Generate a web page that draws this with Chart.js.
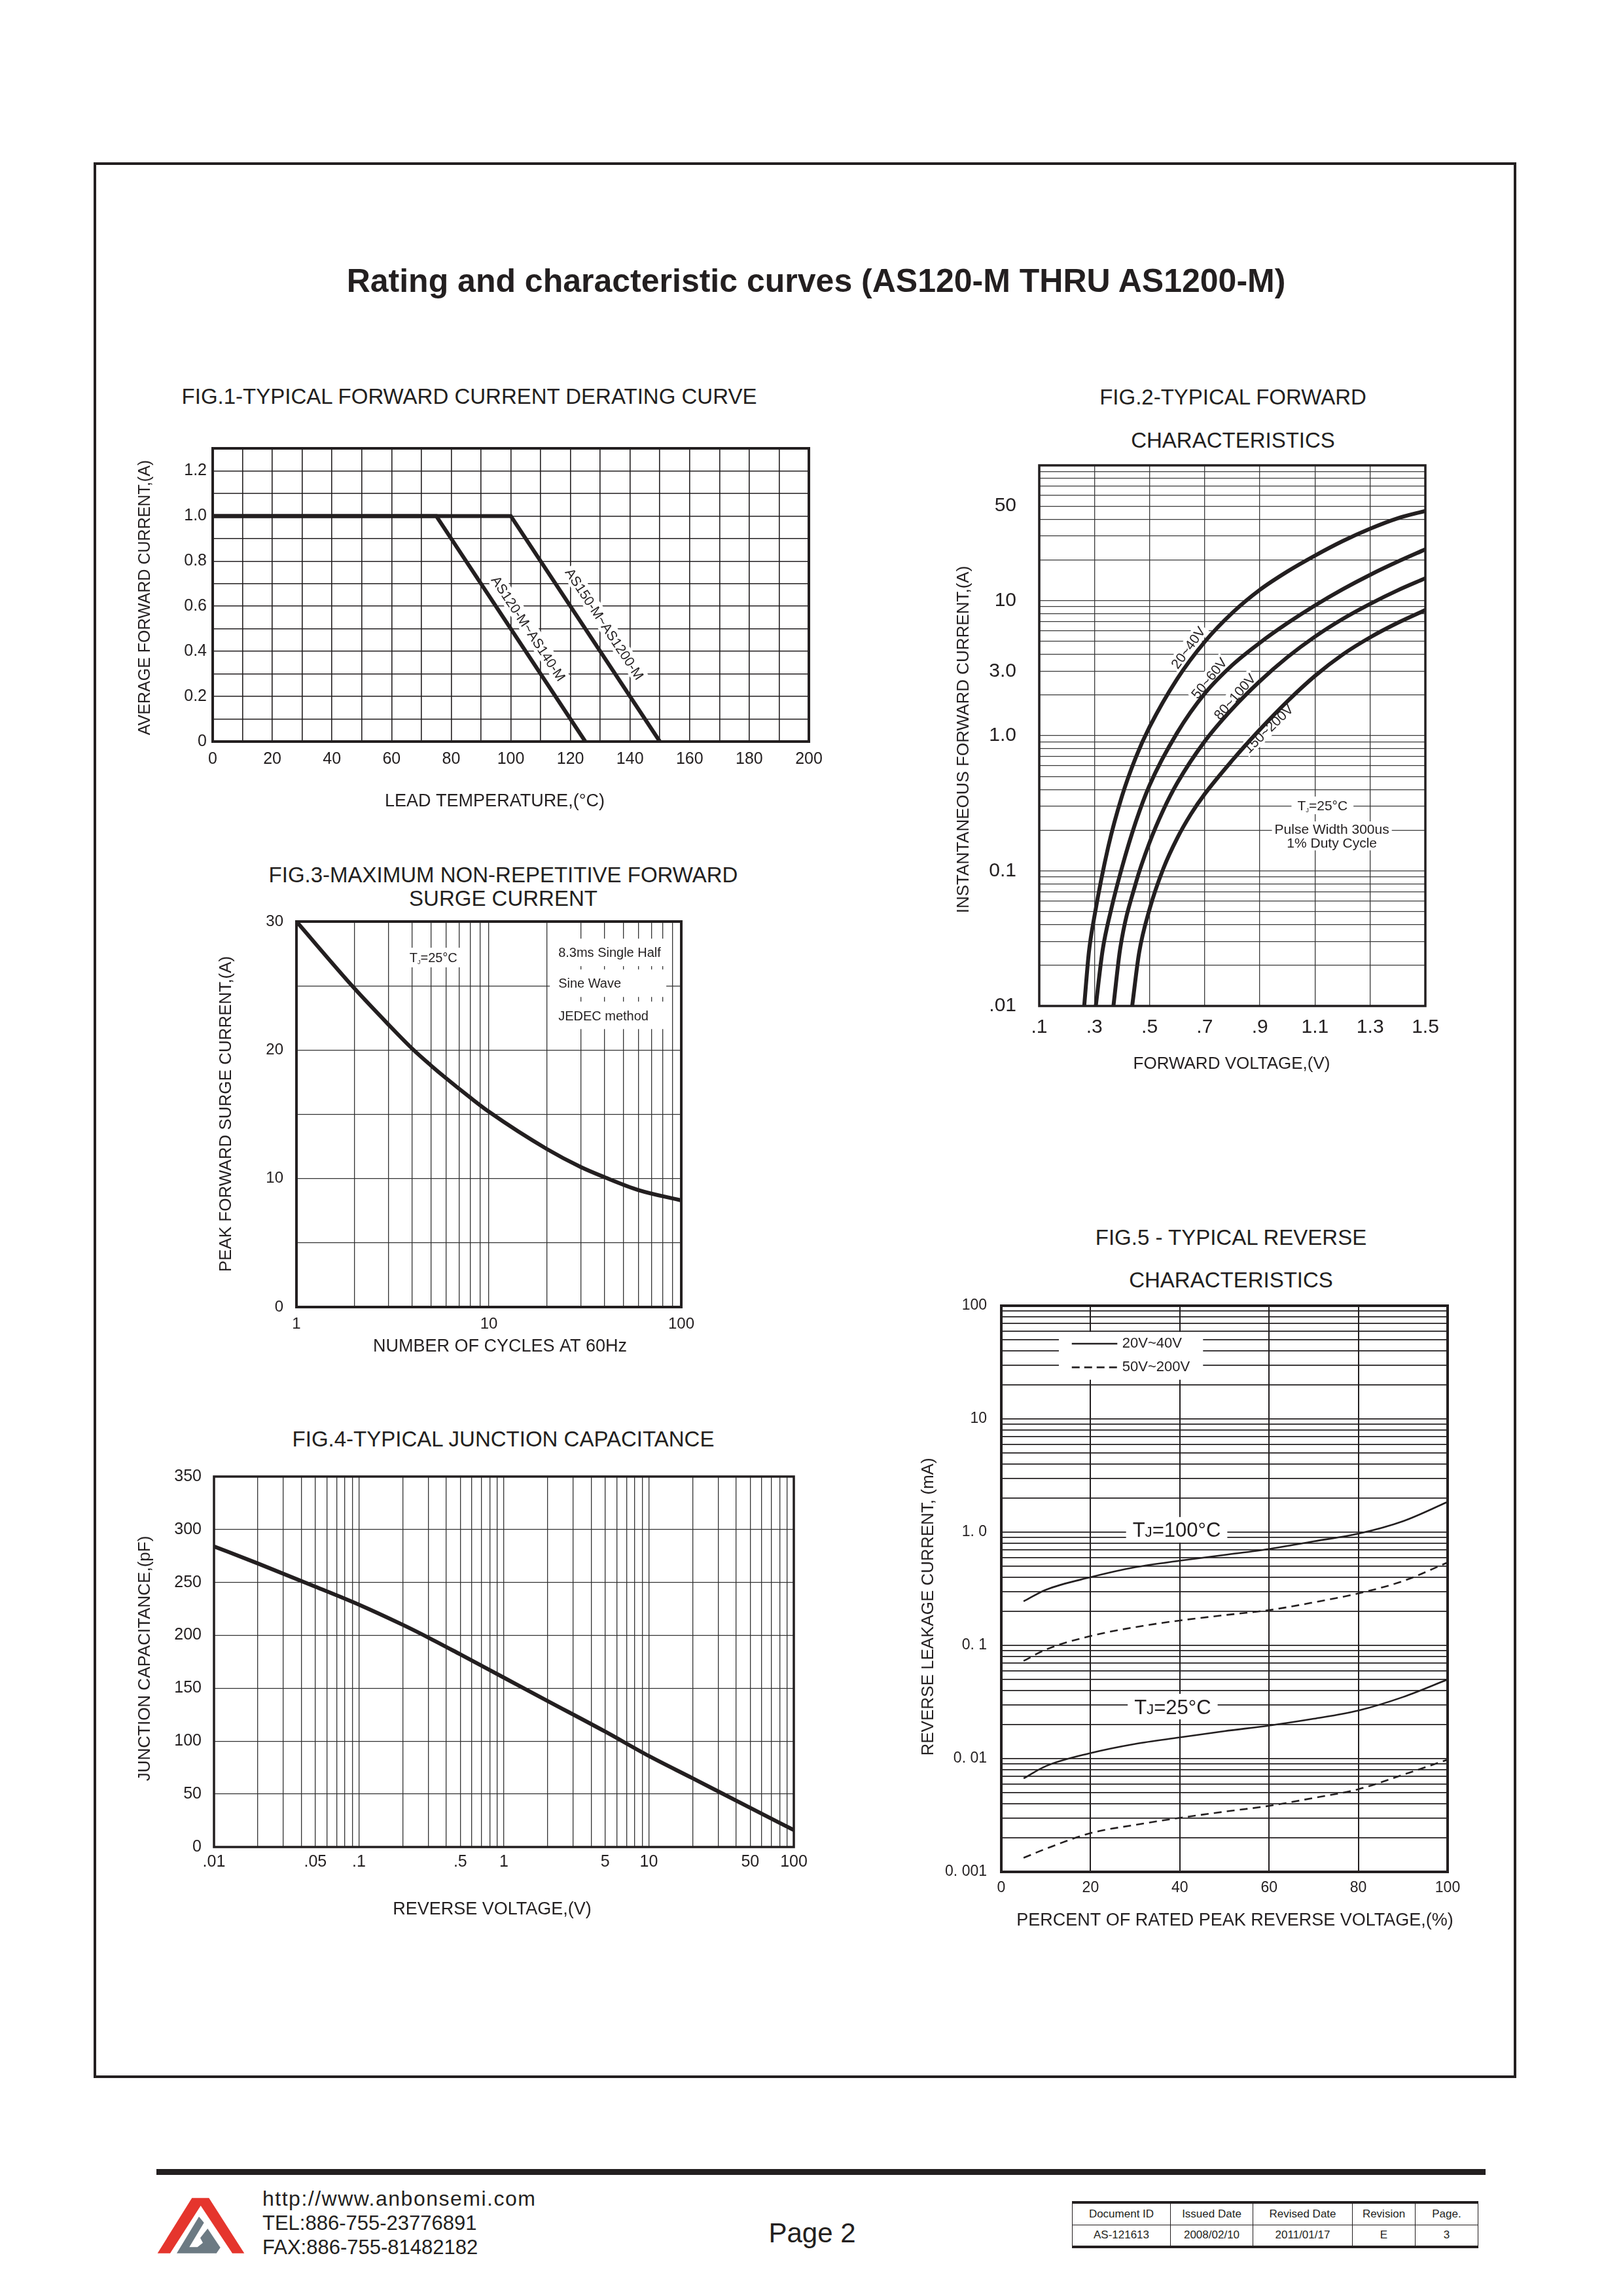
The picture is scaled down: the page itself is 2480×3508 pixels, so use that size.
<!DOCTYPE html>
<html><head><meta charset="utf-8">
<script src="https://cdn.jsdelivr.net/npm/chart.js@4.4.1/dist/chart.umd.min.js"></script>
<style>
html,body{margin:0;padding:0;background:#fff;}
#page{position:relative;width:2480px;height:3508px;background:#fff;overflow:hidden;font-family:"Liberation Sans",Arial,Helvetica,sans-serif;color:#231f20;}
canvas{position:absolute;}
.c{position:absolute;white-space:nowrap;transform:translate(-50%,-50%);line-height:1;}
.l{position:absolute;white-space:nowrap;transform:translateY(-50%);line-height:1;}
.figt{font-size:33px;}
#doc{position:absolute;left:1638px;top:3363px;width:621px;height:72px;border-collapse:collapse;font-size:17px;text-align:center;}
#doc td{border:1.5px solid #231f20;padding:0;}
#doc tr:first-child td{border-top:4px solid #231f20;}
#doc tr:last-child td{border-bottom:4px solid #231f20;}
</style></head><body><div id="page">
<div style="position:absolute;left:143px;top:248px;width:2174px;height:2927px;box-sizing:border-box;border:4px solid #231f20;"></div>
<div class="c" style="left:1247px;top:429px;font-size:50px;font-weight:bold;">Rating and characteristic curves (AS120-M THRU AS1200-M)</div>
<div class="c figt" style="left:717px;top:605px;">FIG.1-TYPICAL FORWARD CURRENT DERATING CURVE</div>
<div class="c figt" style="left:1884px;top:606px;">FIG.2-TYPICAL FORWARD</div>
<div class="c figt" style="left:1884px;top:672px;">CHARACTERISTICS</div>
<div class="c figt" style="left:769px;top:1336px;">FIG.3-MAXIMUM NON-REPETITIVE FORWARD</div>
<div class="c figt" style="left:769px;top:1372px;">SURGE CURRENT</div>
<div class="c figt" style="left:769px;top:2198px;">FIG.4-TYPICAL JUNCTION CAPACITANCE</div>
<div class="c figt" style="left:1881px;top:1890px;">FIG.5 - TYPICAL REVERSE</div>
<div class="c figt" style="left:1881px;top:1955px;">CHARACTERISTICS</div>

<div style="position:absolute;left:239px;top:3314px;width:2031px;height:9px;background:#231f20;"></div>
<svg style="position:absolute;left:230px;top:3340px;" width="160" height="120" viewBox="0 0 160 120">
<polygon fill="#e5352d" points="63.3,18.3 89.3,18.3 143.3,102.7 125,102.7 76.7,30 30,102.7 10.7,102.7"/>
<polygon fill="#6c7a83" points="74,46.7 81.7,56 59.3,93.3 71.7,93.3 80,86.7 76,79.3 87.3,65 106.7,94 100.7,102.7 40,102.7"/>
</svg>
<div class="l" style="left:401px;top:3359px;font-size:32px;letter-spacing:1.5px;">http://www.anbonsemi.com</div>
<div class="l" style="left:401px;top:3396px;font-size:31px;">TEL:886-755-23776891</div>
<div class="l" style="left:401px;top:3433px;font-size:31px;">FAX:886-755-81482182</div>
<div class="c" style="left:1241px;top:3412px;font-size:42px;">Page 2</div>
<table id="doc">
<tr><td style="width:149px">Document ID</td><td style="width:125px">Issued Date</td><td style="width:151px">Revised Date</td><td style="width:95px">Revision</td><td>Page.</td></tr>
<tr><td>AS-121613</td><td>2008/02/10</td><td>2011/01/17</td><td>E</td><td>3</td></tr>
</table>
</div>
<script>
// ================= DATA =================
// FIG.1 derating
const fig1TempA = [0, 75, 125];
const fig1CurrA = [1.0, 1.0, 0];
const fig1TempB = [0, 100, 150];
const fig1CurrB = [1.0, 1.0, 0];
const fig1Names = ['AS120-M~AS140-M', 'AS150-M~AS1200-M'];
const fig1XTicks = [0, 20, 40, 60, 80, 100, 120, 140, 160, 180, 200];
const fig1XLabels = ['0', '20', '40', '60', '80', '100', '120', '140', '160', '180', '200'];
const fig1YTicks = [0, 0.2, 0.4, 0.6, 0.8, 1.0, 1.2];
const fig1YLabels = ['0', '0.2', '0.4', '0.6', '0.8', '1.0', '1.2'];

// FIG.2 forward characteristics
const fig2Names = ['20~40V', '50~60V', '80~100V', '150~200V'];
const fig2V1 = [0.263, 0.28, 0.3, 0.35, 0.4, 0.45, 0.5, 0.6, 0.7, 0.8, 0.9, 1.0, 1.1, 1.2, 1.3, 1.4, 1.5];
const fig2I1 = [0.01, 0.025, 0.046, 0.15, 0.357, 0.69, 1.16, 2.63, 4.95, 8.1, 12.0, 16.4, 21.5, 27.5, 34, 40.6, 46];
const fig2V2 = [0.305, 0.33, 0.36, 0.4, 0.45, 0.5, 0.6, 0.7, 0.8, 0.9, 1.0, 1.1, 1.2, 1.3, 1.4, 1.5];
const fig2I2 = [0.01, 0.026, 0.051, 0.106, 0.23, 0.43, 1.05, 2.05, 3.33, 4.87, 6.8, 9.2, 12.1, 15.5, 19.4, 23.9];
const fig2V3 = [0.369, 0.394, 0.45, 0.5, 0.55, 0.6, 0.7, 0.8, 0.9, 1.0, 1.1, 1.2, 1.3, 1.4, 1.5];
const fig2I3 = [0.01, 0.027, 0.081, 0.162, 0.282, 0.445, 0.908, 1.58, 2.53, 3.81, 5.41, 7.3, 9.45, 11.9, 14.6];
const fig2V4 = [0.437, 0.462, 0.5, 0.55, 0.6, 0.65, 0.7, 0.8, 0.9, 1.0, 1.1, 1.2, 1.3, 1.4, 1.5];
const fig2I4 = [0.01, 0.0247, 0.052, 0.104, 0.174, 0.263, 0.37, 0.657, 1.11, 1.8, 2.77, 3.98, 5.34, 6.84, 8.5];
const fig2XTicks = [0.1, 0.3, 0.5, 0.7, 0.9, 1.1, 1.3, 1.5];
const fig2XLabels = ['.1', '.3', '.5', '.7', '.9', '1.1', '1.3', '1.5'];
const fig2YTicks = [0.01, 0.1, 1, 3, 10, 50];
const fig2YLabels = ['.01', '0.1', '1.0', '3.0', '10', '50'];

// FIG.3 surge current
const fig3Cycles = [1, 2, 3, 4, 5, 6, 8, 10, 20, 30, 40, 60, 100];
const fig3Amps = [30, 24.8, 22.0, 20.1, 18.8, 17.8, 16.3, 15.2, 12.3, 10.9, 10.1, 9.1, 8.3];
const fig3XTicks = [1, 10, 100];
const fig3XLabels = ['1', '10', '100'];
const fig3YTicks = [0, 10, 20, 30];
const fig3YLabels = ['0', '10', '20', '30'];
const fig3Notes = ['8.3ms Single Half', 'Sine Wave', 'JEDEC method'];

// FIG.4 junction capacitance
const fig4Volts = [0.01, 0.02, 0.05, 0.1, 0.2, 0.3, 0.5, 1, 2, 5, 10, 20, 50, 100];
const fig4Cap = [284, 268, 246, 229, 210, 198, 182, 160, 138, 109, 86, 65, 37, 16];
const fig4XTicks = [0.01, 0.05, 0.1, 0.5, 1, 5, 10, 50, 100];
const fig4XLabels = ['.01', '.05', '.1', '.5', '1', '5', '10', '50', '100'];
const fig4YTicks = [0, 50, 100, 150, 200, 250, 300, 350];
const fig4YLabels = ['0', '50', '100', '150', '200', '250', '300', '350'];

// FIG.5 reverse characteristics
const fig5Pct = [5, 10, 20, 30, 40, 50, 60, 70, 80, 90, 100];
const fig5Hot2040 = [0.245, 0.31, 0.40, 0.49, 0.56, 0.63, 0.71, 0.83, 0.97, 1.25, 1.85];
const fig5Hot50200 = [0.073, 0.092, 0.121, 0.145, 0.166, 0.185, 0.205, 0.24, 0.288, 0.37, 0.54];
const fig5Cold2040 = [0.0067, 0.0086, 0.0112, 0.0135, 0.0154, 0.0175, 0.0196, 0.0225, 0.0266, 0.035, 0.05];
const fig5Cold50200 = [0.00133, 0.0016, 0.0022, 0.0026, 0.003, 0.0034, 0.00383, 0.0045, 0.00537, 0.0072, 0.0098];
const fig5Names = ['20V~40V', '50V~200V'];
const fig5XTicks = [0, 20, 40, 60, 80, 100];
const fig5XLabels = ['0', '20', '40', '60', '80', '100'];
const fig5YTicks = [0.001, 0.01, 0.1, 1, 10, 100];
const fig5YLabels = ['0. 001', '0. 01', '0. 1', '1. 0', '10', '100'];

// ================= HELPERS =================
const FONT = '"Liberation Sans", Arial, Helvetica, sans-serif';
const INK = '#231f20';
const pts = (xs, ys) => xs.map((x, i) => ({x: x, y: ys[i]}));
function logGrid(min, max) {
  const out = [];
  for (let d = min; d < max * 0.999; d *= 10)
    for (let k = 1; k <= 9; k++) out.push(+(d * k).toPrecision(6));
  out.push(max);
  return out;
}
function linGrid(min, max, step) {
  const out = [];
  for (let v = min; v <= max + 1e-9; v += step) out.push(+v.toFixed(6));
  return out;
}
function labelFor(ax, v) {
  for (let i = 0; i < ax.ticks.length; i++)
    if (Math.abs(ax.ticks[i] - v) <= 1e-6 * Math.abs(ax.ticks[i]) + 1e-12) return ax.labels[i];
  return '';
}
function makeAxis(ax, pos, size) {
  const horiz = pos === 'bottom';
  return {
    type: ax.type, position: pos, min: ax.min, max: ax.max,
    afterBuildTicks: s => { s.ticks = ax.grid.map(v => ({value: v})); },
    afterFit: s => {
      if (horiz) s.height = size; else s.width = size;
      s.paddingLeft = 0; s.paddingRight = 0; s.paddingTop = 0; s.paddingBottom = 0;
    },
    grid: {color: ax.gridColor, lineWidth: ax.gridWidth, drawTicks: false},
    border: {display: false},
    ticks: {autoSkip: false, maxRotation: 0, minRotation: 0, padding: ax.tickPad, color: INK,
      font: {family: FONT, size: ax.tickSize}, callback: v => labelFor(ax, v)},
    // the axis title text is kept here and drawn by the axisTitles plugin at its exact place
    title: {display: false, text: ax.title, color: INK, font: {family: FONT, size: ax.titleSize}}
  };
}
function framePlugin(w) {
  return {id: 'frameBox', afterDatasetsDraw(chart) {
    const {ctx, chartArea: a} = chart;
    ctx.save(); ctx.strokeStyle = INK; ctx.lineWidth = w;
    ctx.strokeRect(a.left, a.top, a.right - a.left, a.bottom - a.top);
    ctx.restore();
  }};
}
function axisTitlesPlugin(origin, xPos, yPos) {
  return {id: 'axisTitles', afterDraw(chart) {
    const ctx = chart.ctx;
    const xt = chart.options.scales.x.title, yt = chart.options.scales.y.title;
    ctx.save();
    ctx.fillStyle = INK; ctx.textAlign = 'center'; ctx.textBaseline = 'middle';
    ctx.font = xt.font.size + 'px ' + FONT;
    ctx.fillText(xt.text, xPos[0] - origin[0], xPos[1] - origin[1]);
    ctx.translate(yPos[0] - origin[0], yPos[1] - origin[1]);
    ctx.rotate(-Math.PI / 2);
    ctx.font = yt.font.size + 'px ' + FONT;
    ctx.fillText(yt.text, 0, 0);
    ctx.restore();
  }};
}
function noteGeom(ctx, chart, n) {
  const parts = n.parts || [[n.text, 1, 0]];
  let w = 0;
  const ms = parts.map(p => { ctx.font = (n.size * p[1]) + 'px ' + FONT; const m = ctx.measureText(p[0]).width; w += m; return m; });
  return {parts, ms, w,
    px: chart.scales.x.getPixelForValue(n.x), py: chart.scales.y.getPixelForValue(n.y),
    x0: n.align === 'left' ? 0 : -w / 2};
}
function notesPlugin(items, legend) {
  return {id: 'notes', beforeDatasetsDraw(chart) {
    const ctx = chart.ctx;
    const geo = items.map(n => noteGeom(ctx, chart, n));
    items.forEach((n, i) => {
      if (!n.bg) return;
      const g = geo[i], padX = n.padX ?? 4, padY = n.padY ?? 2;
      const bw = n.boxW || (g.w + 2 * padX), bh = n.size + 2 * padY;
      ctx.save(); ctx.translate(g.px, g.py); ctx.rotate((n.rot || 0) * Math.PI / 180);
      ctx.fillStyle = '#fff'; ctx.fillRect(g.x0 - padX, -bh / 2, bw, bh); ctx.restore();
    });
    items.forEach((n, i) => {
      const g = geo[i];
      ctx.save(); ctx.translate(g.px, g.py); ctx.rotate((n.rot || 0) * Math.PI / 180);
      ctx.fillStyle = INK; ctx.textBaseline = 'alphabetic'; ctx.textAlign = 'left';
      let cx = g.x0;
      g.parts.forEach((p, k) => { ctx.font = (n.size * p[1]) + 'px ' + FONT; ctx.fillText(p[0], cx, 0.36 * n.size + p[2] * n.size); cx += g.ms[k]; });
      ctx.restore();
    });
    if (legend) {
      const xs = chart.scales.x, ys = chart.scales.y;
      const bx0 = xs.getPixelForValue(legend.box[0]), bx1 = xs.getPixelForValue(legend.box[1]);
      const by0 = ys.getPixelForValue(legend.box[2]), by1 = ys.getPixelForValue(legend.box[3]);
      ctx.save(); ctx.fillStyle = '#fff'; ctx.fillRect(bx0, by0, bx1 - bx0, by1 - by0);
      legend.rows.forEach(r => {
        const y = ys.getPixelForValue(r.y);
        ctx.strokeStyle = INK; ctx.lineWidth = r.width; ctx.setLineDash(r.dash);
        ctx.beginPath(); ctx.moveTo(xs.getPixelForValue(legend.line[0]), y); ctx.lineTo(xs.getPixelForValue(legend.line[1]), y); ctx.stroke();
        ctx.setLineDash([]);
        ctx.font = legend.size + 'px ' + FONT; ctx.fillStyle = INK; ctx.textBaseline = 'middle'; ctx.textAlign = 'left';
        ctx.fillText(r.text, xs.getPixelForValue(legend.textX), y);
      });
      ctx.restore();
    }
  }};
}
function buildChart(spec) {
  const [pl, pt, pr, pb] = spec.plot;
  const W = pr - pl + spec.L + spec.R, H = pb - pt + spec.T + spec.B;
  const origin = [pl - spec.L, pt - spec.T];
  const cv = document.createElement('canvas');
  cv.width = W; cv.height = H;
  Object.assign(cv.style, {left: origin[0] + 'px', top: origin[1] + 'px', width: W + 'px', height: H + 'px'});
  document.getElementById('page').appendChild(cv);
  new Chart(cv.getContext('2d'), {
    type: 'line',
    data: {datasets: spec.datasets},
    options: {
      responsive: false, animation: false, devicePixelRatio: 1,
      layout: {padding: {left: 0, top: spec.T, right: spec.R, bottom: 0}},
      plugins: {legend: {display: false}, tooltip: {enabled: false}, title: {display: false}},
      elements: {point: {radius: 0}},
      scales: {x: makeAxis(spec.x, 'bottom', spec.B), y: makeAxis(spec.y, 'left', spec.L)}
    },
    plugins: [framePlugin(spec.frameW), notesPlugin(spec.notes || [], spec.legend),
              axisTitlesPlugin(origin, spec.xTitleAt, spec.yTitleAt)]
  });
}
function curve(label, data, width, extra) {
  return Object.assign({label, data, borderColor: INK, borderWidth: width, pointRadius: 0, fill: false,
    cubicInterpolationMode: 'monotone', borderCapStyle: 'butt'}, extra || {});
}

// ================= FIG.1 =================
buildChart({
  plot: [325, 685, 1236, 1133], L: 125, R: 30, T: 20, B: 108, frameW: 4,
  xTitleAt: [756, 1225], yTitleAt: [222, 913],
  x: {type: 'linear', min: 0, max: 200, grid: linGrid(0, 200, 10), ticks: fig1XTicks, labels: fig1XLabels,
      gridColor: INK, gridWidth: 1.6, tickPad: 12, tickSize: 25, title: 'LEAD TEMPERATURE,(°C)', titleSize: 27},
  y: {type: 'linear', min: 0, max: 1.3, grid: linGrid(0, 1.3, 0.1), ticks: fig1YTicks, labels: fig1YLabels,
      gridColor: INK, gridWidth: 1.6, tickPad: 9, tickSize: 25, title: 'AVERAGE FORWARD CURRENT,(A)', titleSize: 25},
  datasets: [
    curve(fig1Names[0], pts(fig1TempA, fig1CurrA), 6, {cubicInterpolationMode: 'default', tension: 0}),
    curve(fig1Names[1], pts(fig1TempB, fig1CurrB), 6, {cubicInterpolationMode: 'default', tension: 0})
  ],
  notes: [
    {x: 106, y: 0.502, text: fig1Names[0], size: 21, rot: 56.5, bg: true, padX: 3, padY: 2},
    {x: 131.5, y: 0.522, text: fig1Names[1], size: 21, rot: 56.5, bg: true, padX: 3, padY: 2}
  ]
});

// ================= FIG.2 =================
buildChart({
  plot: [1588, 711, 2178, 1537], L: 136, R: 30, T: 20, B: 105, frameW: 3.5,
  xTitleAt: [1882, 1626], yTitleAt: [1473, 1130],
  x: {type: 'linear', min: 0.1, max: 1.5, grid: fig2XTicks, ticks: fig2XTicks, labels: fig2XLabels,
      gridColor: '#3a3a3a', gridWidth: 1.3, tickPad: 15, tickSize: 30, title: 'FORWARD VOLTAGE,(V)', titleSize: 26},
  y: {type: 'logarithmic', min: 0.01, max: 100, grid: logGrid(0.01, 100), ticks: fig2YTicks, labels: fig2YLabels,
      gridColor: '#3a3a3a', gridWidth: 1.3, tickPad: 35, tickSize: 30, title: 'INSTANTANEOUS FORWARD CURRENT,(A)', titleSize: 26},
  datasets: [
    curve(fig2Names[0], pts(fig2V1, fig2I1), 6),
    curve(fig2Names[1], pts(fig2V2, fig2I2), 6),
    curve(fig2Names[2], pts(fig2V3, fig2I3), 6),
    curve(fig2Names[3], pts(fig2V4, fig2I4), 6)
  ],
  notes: [
    {x: 0.639, y: 4.49, text: fig2Names[0], size: 21, rot: -54, bg: true, padX: 3, padY: 1},
    {x: 0.715, y: 2.67, text: fig2Names[1], size: 21, rot: -51, bg: true, padX: 3, padY: 1},
    {x: 0.808, y: 1.95, text: fig2Names[2], size: 21, rot: -49, bg: true, padX: 3, padY: 1},
    {x: 0.930, y: 1.13, text: fig2Names[3], size: 21, rot: -44, bg: true, padX: 3, padY: 1},
    {x: 1.127, y: 0.305, parts: [['T', 1, 0], ['J', 0.45, 0.12], ['=25°C', 1, 0]], size: 21, bg: true, padX: 9, padY: 3},
    {x: 1.161, y: 0.204, text: 'Pulse Width 300us', size: 21, bg: true, padX: 4, padY: 1},
    {x: 1.161, y: 0.161, text: '1% Duty Cycle', size: 21, bg: true, padX: 4, padY: 1}
  ]
});

// ================= FIG.3 =================
buildChart({
  plot: [453, 1408, 1041, 1997], L: 128, R: 30, T: 20, B: 77, frameW: 4,
  xTitleAt: [764, 2058], yTitleAt: [346, 1702],
  x: {type: 'logarithmic', min: 1, max: 100, grid: logGrid(1, 100), ticks: fig3XTicks, labels: fig3XLabels,
      gridColor: '#333', gridWidth: 1.3, tickPad: 12, tickSize: 24, title: 'NUMBER OF CYCLES AT 60Hz', titleSize: 27},
  y: {type: 'linear', min: 0, max: 30, grid: linGrid(0, 30, 5), ticks: fig3YTicks, labels: fig3YLabels,
      gridColor: '#333', gridWidth: 1.3, tickPad: 20, tickSize: 24, title: 'PEAK FORWARD SURGE CURRENT,(A)', titleSize: 26},
  datasets: [curve('Surge', pts(fig3Cycles, fig3Amps), 6)],
  notes: [
    {x: 5.15, y: 27.2, parts: [['T', 1, 0], ['J', 0.45, 0.12], ['=25°C', 1, 0]], size: 20, bg: true, padX: 5, padY: 5},
    {x: 22.96, y: 27.6, text: fig3Notes[0], size: 20, align: 'left', bg: true, padX: 13, padY: 11, boxW: 178},
    {x: 22.96, y: 25.2, text: fig3Notes[1], size: 20, align: 'left', bg: true, padX: 13, padY: 11, boxW: 178},
    {x: 22.96, y: 22.7, text: fig3Notes[2], size: 20, align: 'left', bg: true, padX: 13, padY: 11, boxW: 178}
  ]
});

// ================= FIG.4 =================
buildChart({
  plot: [327, 2256, 1213, 2822], L: 126, R: 35, T: 20, B: 112, frameW: 3.5,
  xTitleAt: [752, 2918], yTitleAt: [222, 2534],
  x: {type: 'logarithmic', min: 0.01, max: 100, grid: logGrid(0.01, 100), ticks: fig4XTicks, labels: fig4XLabels,
      gridColor: '#333', gridWidth: 1.3, tickPad: 8, tickSize: 25, title: 'REVERSE VOLTAGE,(V)', titleSize: 27},
  y: {type: 'linear', min: 0, max: 350, grid: fig4YTicks, ticks: fig4YTicks, labels: fig4YLabels,
      gridColor: '#333', gridWidth: 1.3, tickPad: 19, tickSize: 25, title: 'JUNCTION CAPACITANCE,(pF)', titleSize: 26},
  datasets: [curve('Capacitance', pts(fig4Volts, fig4Cap), 6)]
});

// ================= FIG.5 =================
buildChart({
  plot: [1530, 1995, 2212, 2860], L: 132, R: 35, T: 20, B: 91, frameW: 4,
  xTitleAt: [1887, 2935], yTitleAt: [1419, 2455],
  x: {type: 'linear', min: 0, max: 100, grid: fig5XTicks, ticks: fig5XTicks, labels: fig5XLabels,
      gridColor: INK, gridWidth: 2, tickPad: 11, tickSize: 23, title: 'PERCENT OF RATED PEAK REVERSE VOLTAGE,(%)', titleSize: 27},
  y: {type: 'logarithmic', min: 0.001, max: 100, grid: logGrid(0.001, 100), ticks: fig5YTicks, labels: fig5YLabels,
      gridColor: INK, gridWidth: 1.7, tickPad: 22, tickSize: 23, title: 'REVERSE LEAKAGE CURRENT, (mA)', titleSize: 26},
  datasets: [
    curve(fig5Names[0] + ' 100°C', pts(fig5Pct, fig5Hot2040), 2.6),
    curve(fig5Names[1] + ' 100°C', pts(fig5Pct, fig5Hot50200), 2.6, {borderDash: [12, 8]}),
    curve(fig5Names[0] + ' 25°C', pts(fig5Pct, fig5Cold2040), 2.6),
    curve(fig5Names[1] + ' 25°C', pts(fig5Pct, fig5Cold50200), 2.6, {borderDash: [12, 8]})
  ],
  notes: [
    {x: 39.3, y: 1.05, parts: [['T', 1, 0], ['J', 0.72, 0], ['=100°C', 1, 0]], size: 31, bg: true, padX: 10, padY: 4},
    {x: 38.4, y: 0.0288, parts: [['T', 1, 0], ['J', 0.72, 0], ['=25°C', 1, 0]], size: 31, bg: true, padX: 10, padY: 4}
  ],
  legend: {box: [12.9, 45.2, 58.7, 22.2], line: [15.8, 26.0], textX: 27.1, size: 22,
    rows: [{y: 46.2, text: fig5Names[0], dash: [], width: 2.7}, {y: 28.6, text: fig5Names[1], dash: [12, 7], width: 2.7}]}
});
</script>
</body></html>
